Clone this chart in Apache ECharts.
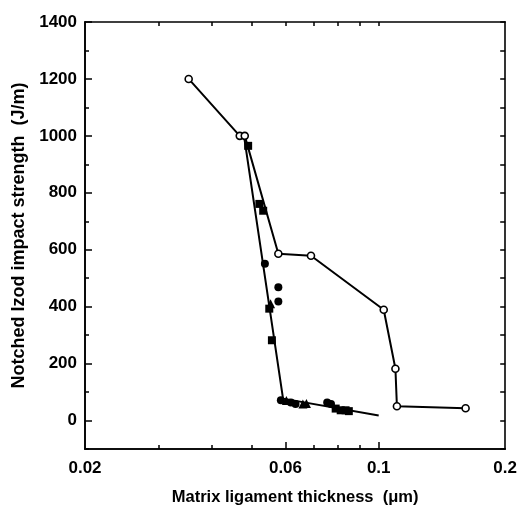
<!DOCTYPE html>
<html><head><meta charset="utf-8">
<script src="https://cdn.jsdelivr.net/npm/echarts@6/dist/echarts.min.js"></script>
<style>html,body{margin:0;padding:0;background:#fff}#c{width:520px;height:511px}</style>
</head><body><div id="c"></div>
<script>
// Data
const openCircles = [[0.0353,1200],[0.0467,1000],[0.0480,1000],[0.0577,586],[0.0690,579],[0.1028,389],[0.1096,182],[0.1105,50],[0.161,43]];
const filledSquares = [[0.0489,965],[0.0520,761],[0.0531,737],[0.0549,393],[0.0557,282],[0.0790,42],[0.0812,36],[0.0834,36],[0.0849,33]];
const filledCircles = [[0.0536,551],[0.0577,468],[0.0577,418],[0.0585,71],[0.0618,63],[0.0634,58],[0.0754,63],[0.0770,58]];
const filledTriangles = [[0.0553,410],[0.0603,70],[0.0673,60],[0.0660,58]];
const fitLine = [[0.0478,1000],[0.0592,77],[0.1,18]];
const xLabelValues = [0.02,0.06,0.1,0.2];
const xMajorTicks = [0.06,0.1];
const xMinorTicks = [0.03,0.04,0.05,0.07,0.08,0.09];
const yLabelValues = [0,200,400,600,800,1000,1200,1400];
const yMinorTicks = [-100,100,300,500,700,900,1100,1300];

const FONT = 'Liberation Sans';
const black = '#000';
const axisLine = {show:true, onZero:false, lineStyle:{color:black, width:1.6}};
function xAx(extra){ return Object.assign({
  type:'log', logBase:10, min:0.02, max:0.2, gridIndex:0,
  axisLine:axisLine, splitLine:{show:false}, minorTick:{show:false}, minorSplitLine:{show:false}
}, extra); }
function yAx(extra){ return Object.assign({
  type:'value', min:-100, max:1400, gridIndex:0,
  axisLine:axisLine, splitLine:{show:false}, minorTick:{show:false}
}, extra); }

const chart = echarts.init(document.getElementById('c'), null, {renderer:'canvas'});
chart.setOption({
  backgroundColor:'#fff',
  animation:false,
  grid:{left:85, right:13, top:22, bottom:61, containLabel:false},
  xAxis:[
    xAx({position:'bottom',
      name:'Matrix ligament thickness  (\u03bcm)', nameLocation:'middle', nameGap:40,
      nameTextStyle:{fontFamily:FONT, fontWeight:'bold', fontSize:16.5, color:black},
      axisLabel:{customValues:xLabelValues, fontFamily:FONT, fontWeight:'bold', fontSize:17, color:black, margin:11,
        formatter:v=>String(+v.toPrecision(3))},
      axisTick:{show:true, inside:true, length:7, customValues:xMajorTicks, lineStyle:{color:black,width:1.5}}}),
    xAx({position:'bottom', axisLabel:{show:false},
      axisTick:{show:true, inside:true, length:4, customValues:xMinorTicks, lineStyle:{color:black,width:1.5}}}),
    xAx({position:'top', axisLabel:{show:false},
      axisTick:{show:true, inside:true, length:4, customValues:xMinorTicks.concat(xMajorTicks), lineStyle:{color:black,width:1.5}}})
  ],
  yAxis:[
    yAx({position:'left',
      name:'Notched Izod impact strength  (J/m)', nameLocation:'middle', nameGap:54, nameRotate:90,
      nameTextStyle:{fontFamily:FONT, fontWeight:'bold', fontSize:18, color:black},
      axisLabel:{customValues:yLabelValues, fontFamily:FONT, fontWeight:'bold', fontSize:17, color:black, margin:8,
        formatter:v=>String(v)},
      axisTick:{show:true, inside:true, length:7, customValues:yLabelValues, lineStyle:{color:black,width:1.5}}}),
    yAx({position:'left', axisLabel:{show:false},
      axisTick:{show:true, inside:true, length:4, customValues:yMinorTicks, lineStyle:{color:black,width:1.5}}}),
    yAx({position:'right', interval:100, axisLabel:{show:false},
      axisTick:{show:true, inside:true, length:5, lineStyle:{color:black,width:1.5}}})
  ],
  series:[
    {type:'line', data:fitLine, xAxisIndex:0, yAxisIndex:0, symbol:'none',
     lineStyle:{color:black, width:2}, z:2, silent:true},
    {type:'line', data:openCircles, xAxisIndex:0, yAxisIndex:0, symbol:'circle', symbolSize:7,
     itemStyle:{color:'#fff', borderColor:black, borderWidth:1.6},
     lineStyle:{color:black, width:2}, z:3},
    {type:'scatter', data:filledSquares, xAxisIndex:0, yAxisIndex:0, symbol:'rect', symbolSize:8,
     itemStyle:{color:black, opacity:1}, z:4},
    {type:'scatter', data:filledCircles, xAxisIndex:0, yAxisIndex:0, symbol:'circle', symbolSize:8,
     itemStyle:{color:black, opacity:1}, z:4},
    {type:'scatter', data:filledTriangles, xAxisIndex:0, yAxisIndex:0, symbol:'triangle', symbolSize:9,
     itemStyle:{color:black, opacity:1}, z:4}
  ]
});
</script>
</body></html>
